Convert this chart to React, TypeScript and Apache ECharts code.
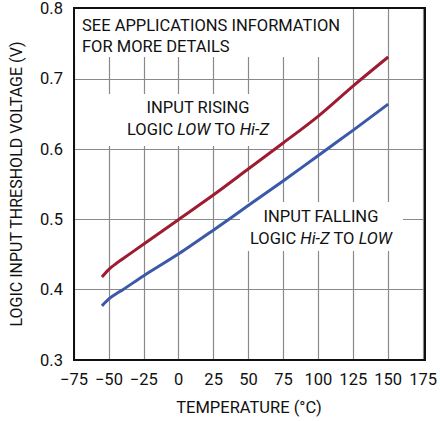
import React, { useEffect, useRef } from "react";
import * as echarts from "echarts";

const temperatures = [-55, -50, -45, -40, -25, 0, 25, 50, 75, 100, 125, 150];
const risingThreshold = [0.418, 0.429, 0.437, 0.444, 0.465, 0.5, 0.535, 0.572, 0.609, 0.647, 0.69, 0.731];
const fallingThreshold = [0.377, 0.387, 0.394, 0.4, 0.42, 0.451, 0.485, 0.52, 0.555, 0.591, 0.627, 0.664];

const xAxisMin = -75;
const xAxisMax = 175;
const xAxisStep = 25;
const yAxisMin = 0.3;
const yAxisMax = 0.8;
const yAxisStep = 0.1;

const FONT = "Roboto, 'Liberation Sans', sans-serif";
const INK = "#111";

export default function App() {
  const ref = useRef<HTMLDivElement>(null);
  useEffect(() => {
    document.body.style.margin = "0";
    const chart = echarts.init(ref.current!, null, { renderer: "svg" });
    const gl = 74, gt = 8, gw = 351, gh = 352;
    chart.setOption({
      animation: false,
      backgroundColor: "#fff",
      textStyle: { fontFamily: FONT },
      grid: { left: gl, top: gt, width: gw, height: gh, show: false },
      xAxis: {
        type: "value",
        min: xAxisMin,
        max: xAxisMax,
        interval: xAxisStep,
        axisLine: { show: false },
        axisTick: { show: false },
        axisLabel: {
          margin: 11,
          fontSize: 16.5,
          color: INK,
          fontFamily: FONT,
          formatter: (v: number) => String(v).replace("-", "\u2212"),
        },
        splitLine: { show: true, lineStyle: { color: "#8a8a8a", width: 1.2 } },
      },
      yAxis: {
        type: "value",
        min: yAxisMin,
        max: yAxisMax,
        interval: yAxisStep,
        axisLine: { show: false },
        axisTick: { show: false },
        axisLabel: {
          margin: 11,
          fontSize: 16.5,
          color: INK,
          fontFamily: FONT,
          formatter: (v: number) => v.toFixed(1),
        },
        splitLine: { show: true, lineStyle: { color: "#8a8a8a", width: 1.2 } },
      },
      series: [
        {
          type: "line",
          name: "INPUT RISING",
          data: temperatures.map((t, i) => [t, risingThreshold[i]]),
          smooth: 0.3,
          showSymbol: false,
          lineStyle: { color: "#9e1b32", width: 3 },
          z: 5,
        },
        {
          type: "line",
          name: "INPUT FALLING",
          data: temperatures.map((t, i) => [t, fallingThreshold[i]]),
          smooth: 0.3,
          showSymbol: false,
          lineStyle: { color: "#3c58a8", width: 3 },
          z: 5,
        },
      ],
      graphic: [
        { type: "rect", z: 1, shape: { x: 75, y: 9, width: 273, height: 48 }, style: { fill: "#fff" } },
        { type: "rect", z: 1, shape: { x: 104, y: 94, width: 176, height: 52 }, style: { fill: "#fff" } },
        { type: "rect", z: 1, shape: { x: 240, y: 202, width: 163, height: 49 }, style: { fill: "#fff" } },
        {
          type: "rect",
          z: 20,
          shape: { x: gl, y: gt, width: gw, height: gh },
          style: { fill: "none", stroke: "#111", lineWidth: 2 },
        },
        {
          type: "text",
          z: 8,
          x: 82,
          y: 36,
          style: {
            text: "SEE APPLICATIONS INFORMATION\nFOR MORE DETAILS",
            fontSize: 16.5,
            fontFamily: FONT,
            lineHeight: 20.5,
            fill: INK,
            align: "left",
            verticalAlign: "middle",
          },
        },
        {
          type: "text",
          z: 8,
          x: 198,
          y: 118.5,
          style: {
            text: "INPUT RISING\nLOGIC {i|LOW} TO {i|Hi-Z}",
            fontSize: 16.5,
            fontFamily: FONT,
            lineHeight: 21.5,
            fill: INK,
            align: "center",
            verticalAlign: "middle",
            rich: { i: { fontStyle: "italic", fontSize: 16.5, fontFamily: FONT, fill: INK, lineHeight: 21.5 } },
          },
        },
        {
          type: "text",
          z: 8,
          x: 321,
          y: 227.5,
          style: {
            text: "INPUT FALLING\nLOGIC {i|Hi-Z} TO {i|LOW}",
            fontSize: 16.5,
            fontFamily: FONT,
            lineHeight: 21.5,
            fill: INK,
            align: "center",
            verticalAlign: "middle",
            rich: { i: { fontStyle: "italic", fontSize: 16.5, fontFamily: FONT, fill: INK, lineHeight: 21.5 } },
          },
        },
        {
          type: "text",
          z: 8,
          x: 249,
          y: 407,
          style: {
            text: "TEMPERATURE (\u00B0C)",
            fontSize: 16.5,
            fontFamily: FONT,
            fill: INK,
            align: "center",
            verticalAlign: "middle",
          },
        },
        {
          type: "text",
          z: 8,
          x: 16,
          y: 184,
          rotation: Math.PI / 2,
          style: {
            text: "LOGIC INPUT THRESHOLD VOLTAGE (V)",
            fontSize: 16,
            fontFamily: FONT,
            fill: INK,
            align: "center",
            verticalAlign: "middle",
          },
        },
      ],
    });
    return () => chart.dispose();
  }, []);
  return <div ref={ref} style={{ position: "fixed", left: 0, top: 0, width: 440, height: 421 }} />;
}
